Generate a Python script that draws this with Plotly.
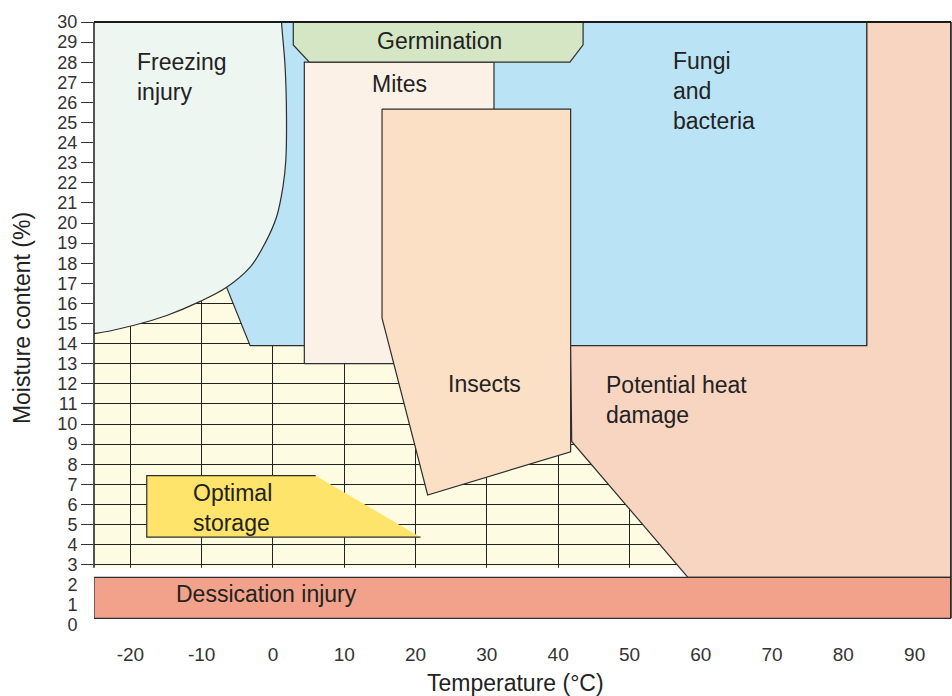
import plotly.graph_objects as go

# axes
x_ticks = [-20, -10, 0, 10, 20, 30, 40, 50, 60, 70, 80, 90]
y_ticks = list(range(3, 31))
y_ticks_low = [0, 1, 2]
x_range = [-25.1, 95.1]
y_range = [0, 30]

# regions, as (temperature °C, moisture %) outlines
freezing_x = [1.2, 1.7, 1.9, 1.8, 1.4, 0.5, -1.1, -3.2, -6.5, -10.2, -14.9, -19.6, -25.1, -27, -27, 1.1]
freezing_y = [30, 27.8, 25.3, 23.1, 21.8, 20.3, 19.0, 17.8, 16.8, 16.1, 15.4, 14.9, 14.5, 14.5, 31, 31]

fungi_x = [-25.1, 83.3, 83.3, -3.2, -6.5, -25.1]
fungi_y = [30, 30, 13.9, 13.9, 16.8, 16.8]

mites_x = [4.4, 31.0, 31.0, 4.4]
mites_y = [13.0, 13.0, 28.0, 28.0]

germ_x = [2.85, 43.5, 43.5, 41.65, 5.1, 2.85]
germ_y = [30, 30, 28.86, 28.0, 28.0, 28.86]

insects_x = [15.3, 41.75, 41.75, 21.7, 15.3]
insects_y = [25.67, 25.67, 8.62, 6.47, 15.26]

heat_x = [41.75, 83.3, 83.3, 95.1, 95.1, 58.2, 41.9]
heat_y = [13.9, 13.9, 30, 30, 2.37, 2.37, 9.13]

optimal_x = [-17.7, 6.0, 20.7, -17.7]
optimal_y = [7.43, 7.43, 4.37, 4.37]

dessication_x = [-25.1, 95.1, 95.1, -25.1]
dessication_y = [0.33, 0.33, 2.37, 2.37]

grid_floor = 2.85  # lower edge of the gridded zone

labels = [
    ("Freezing<br>injury", -19.35, 27.24, "left"),
    ("Germination", 23.3, 29.05, "center"),
    ("Mites", 17.7, 26.9, "center"),
    ("Fungi<br>and<br>bacteria", 55.8, 26.57, "left"),
    ("Insects", 29.6, 11.99, "center"),
    ("Potential heat<br>damage", 46.4, 11.19, "left"),
    ("Optimal<br>storage", -11.5, 5.8, "left"),
    ("Dessication injury", -13.9, 1.54, "left"),
]

EDGE = "#2e2e2e"
FONT = "Liberation Sans, Arial, sans-serif"


def region(x, y, fill, edge=EDGE, width=1.2, shape="linear", yaxis="y"):
    return go.Scatter(
        x=x + x[:1], y=y + y[:1], mode="lines", fill="toself",
        fillcolor=fill, line=dict(color=edge, width=width, shape=shape, smoothing=1),
        hoverinfo="skip", showlegend=False, yaxis=yaxis,
    )


fig = go.Figure()
# white strip below the grid
fig.add_trace(region([x_range[0] - 1, x_range[1] + 1, x_range[1] + 1, x_range[0] - 1],
                     [-1, -1, grid_floor, grid_floor], "white", edge="white", width=0))
fig.add_trace(region(fungi_x, fungi_y, "#bbe3f6"))
fig.add_trace(region(freezing_x, freezing_y, "#eef6f1", shape="spline"))
fig.add_trace(region(mites_x, mites_y, "#fcf1e7"))
fig.add_trace(region(germ_x, germ_y, "#d5e6c5"))
fig.add_trace(region(insects_x, insects_y, "#fbe0c5"))
fig.add_trace(region(heat_x, heat_y, "#f8d5c1"))
fig.add_trace(region(optimal_x, optimal_y, "#ffe46b", edge="rgba(0,0,0,0)", width=0))
fig.add_trace(go.Scatter(
    x=[optimal_x[1], optimal_x[0], optimal_x[3], optimal_x[2]],
    y=[optimal_y[1], optimal_y[0], optimal_y[3], optimal_y[2]],
    mode="lines", line=dict(color=EDGE, width=1.2), hoverinfo="skip", showlegend=False,
))
fig.add_trace(region(dessication_x, dessication_y, "#f2a28a", yaxis="y2"))

for text, x, y, align in labels:
    fig.add_annotation(
        x=x, y=y, text=text, showarrow=False, xanchor=align, yanchor="middle",
        align=align, font=dict(size=23, color="#222", family=FONT),
    )

fig.add_annotation(x=0.4924, y=-0.0962, xref="paper", yref="paper", text="Temperature (°C)",
                   xanchor="center", yanchor="middle", showarrow=False,
                   font=dict(size=23, color="#222", family=FONT))
fig.add_annotation(x=-0.084, y=0.509, xref="paper", yref="paper", text="Moisture content (%)",
                   xanchor="center", yanchor="middle", textangle=-90, showarrow=False,
                   font=dict(size=23, color="#222", family=FONT))

# frame
fig.add_shape(type="line", xref="paper", yref="paper", x0=0, x1=1, y0=1, y1=1,
              line=dict(color="#1a1a1a", width=2), layer="above")
fig.add_shape(type="line", xref="paper", yref="paper", x0=0, x1=0, y0=grid_floor / 30, y1=1,
              line=dict(color="#1a1a1a", width=1.5), layer="above")
fig.add_shape(type="line", xref="paper", yref="paper", x0=1, x1=1, y0=0.33 / 30, y1=1,
              line=dict(color="#1a1a1a", width=1.5), layer="above")

fig.update_layout(
    width=952, height=696,
    margin=dict(l=94, r=1, t=22, b=71),
    paper_bgcolor="white", plot_bgcolor="#fefbe3",
    font=dict(family=FONT, color="#333"),
    xaxis=dict(range=x_range, tickvals=x_ticks, ticktext=[str(v) for v in x_ticks],
               showgrid=True, gridcolor="#222",
               gridwidth=1.2, zeroline=False, showline=False, ticks="outside",
               ticklen=12, tickcolor="rgba(0,0,0,0)", tickfont=dict(size=19, color="#333")),
    yaxis=dict(range=y_range, tickvals=y_ticks, showgrid=True, gridcolor="#222",
               gridwidth=1.2, zeroline=False, showline=False, ticks="outside",
               ticklen=12, tickwidth=1.2, tickcolor="#333", tickfont=dict(size=18, color="#333")),
    yaxis2=dict(range=y_range, tickvals=y_ticks_low, overlaying="y", side="left",
                showgrid=False, zeroline=False, showline=False, ticks="outside",
                ticklen=12, tickcolor="rgba(0,0,0,0)", tickfont=dict(size=18, color="#333")),
)

# drop the browser's default 8px body margin so the figure fills the window
fig.write_html("out.html", config={"displayModeBar": False},
               post_script="document.body.style.margin = '0px';")
